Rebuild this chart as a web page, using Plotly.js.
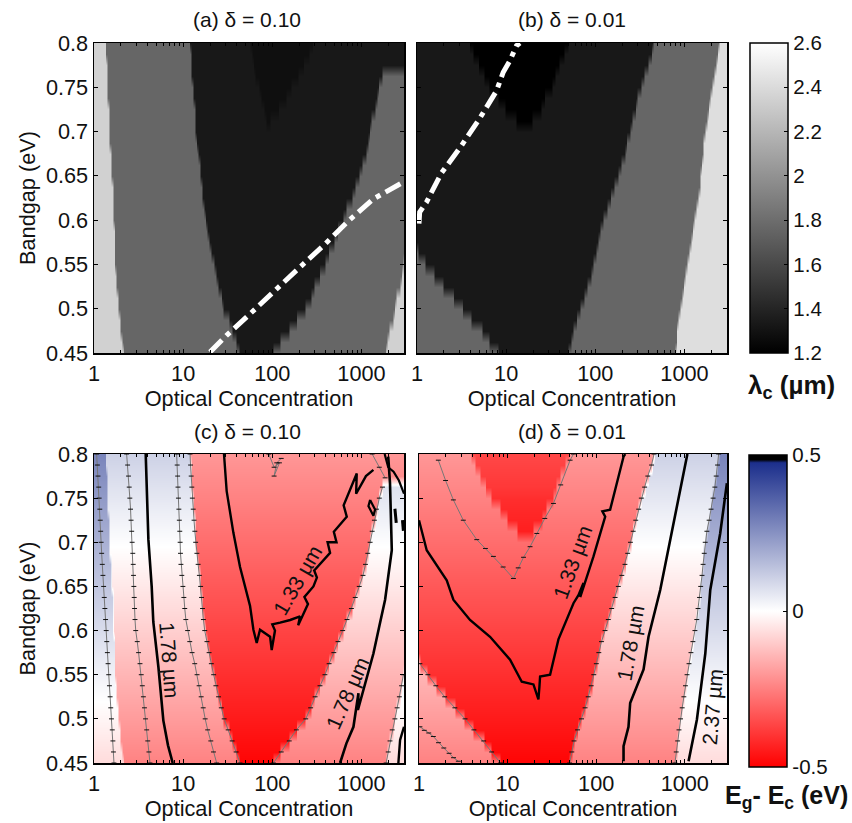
<!DOCTYPE html>
<html><head><meta charset="utf-8">
<script src="https://cdn.plot.ly/plotly-3.0.1.min.js"></script>
<style>html,body{margin:0;padding:0;background:#fff}#c{width:852px;height:823px}</style>
</head><body><div id="c"></div>
<script>
// Bandgap rows of the maps (eV), bottom to top
const bandgapRows=[.45,.4625,.475,.4875,.5,.5125,.525,.5375,.55,.5625,.575,.5875,.6,.6125,.625,.6375,.65,.6625,.675,.6875,.7,.7125,.725,.7375,.75,.7625,.775,.7875,.8];
const concTicks=[1,10,100,1000], concLabels=['1','10','100','1000'];
const concMinor=[2,3,4,5,6,7,8,9,20,30,40,50,60,70,80,90,200,300,400,500,600,700,800,900,2000,3000];
const gapTicks=[.45,.5,.55,.6,.65,.7,.75,.8], gapLabels=['0.45','0.5','0.55','0.6','0.65','0.7','0.75','0.8'];

// delta = 0.10: band boundaries per row, as log10(concentration); 9 = band reaches the right side
const aEdge1=[.322,.31,.298,.286,.275,.267,.257,.248,.237,.232,.227,.222,.218,.213,.208,.202,.196,.19,.184,.178,.172,.167,.163,.158,.154,.149,.144,.14,.135];
const aEdge2=[1.638,1.594,1.55,1.505,1.46,1.428,1.397,1.367,1.342,1.316,1.291,1.267,1.242,1.227,1.217,1.206,1.196,1.182,1.168,1.154,1.14,1.131,1.122,1.113,1.103,1.097,1.09,1.083,1.077];
const aTopL=[1.8,1.8,1.8,1.8,1.8,1.8,1.8,1.8,1.8,1.8,1.8,1.8,1.8,1.8,1.8,1.8,1.8,1.8,1.8,1.8,1.8,1.94,1.91,1.88,1.85,1.82,1.79,1.77,1.75];
const aTopR=[1.8,1.8,1.8,1.8,1.8,1.8,1.8,1.8,1.8,1.8,1.8,1.8,1.8,1.8,1.8,1.8,1.8,1.8,1.8,1.8,1.8,1.98,2.07,2.15,2.22,2.29,2.35,2.41,2.46];
const aEdge3=[2.012,2.1,2.19,2.27,2.375,2.43,2.48,2.535,2.59,2.637,2.69,2.737,2.789,2.838,2.887,2.93,2.975,3.017,3.045,3.071,3.097,3.12,3.145,3.168,3.2,3.236,9,9,9];
const aEdge4=[3.276,3.3,3.32,3.345,3.375,3.4,3.425,3.45,3.47,9,9,9,9,9,9,9,9,9,9,9,9,9,9,9,9,9,9,9,9];
// delta = 0.01: band boundaries per row; -1 = band absent
const bEdge1=[.92,.82,.73,.62,.52,.405,.29,.19,.1,.01,-1,-1,-1,-1,-1,-1,-1,-1,-1,-1,-1,-1,-1,-1,-1,-1,-1,-1,-1];
const bDeepL=[1,1,1,1,1,1,1,1,1,1,1,1,1,1,1,1,1,1,1,1,1,1.12,1,.92,.81,.75,.69,.64,.595];
const bDeepR=[1,1,1,1,1,1,1,1,1,1,1,1,1,1,1,1,1,1,1,1,1,1.3,1.39,1.44,1.51,1.56,1.6,1.645,1.687];
const bEdge2=[1.7,1.725,1.75,1.79,1.835,1.875,1.91,1.944,1.973,2.002,2.03,2.06,2.1,2.137,2.175,2.214,2.25,2.29,2.325,2.356,2.387,2.418,2.447,2.48,2.51,2.547,2.583,2.625,2.653];
const bEdge3=[2.889,2.904,2.92,2.935,2.953,2.971,2.99,3.008,3.026,3.048,3.07,3.092,3.115,3.136,3.15,3.167,3.18,3.195,3.207,3.22,3.231,3.25,3.275,3.297,3.32,3.34,3.355,3.37,3.383];
// Cut-off wavelength of each band (um)
const lambdaA={L:2.35,M:1.76,D:1.33,T:1.28};
const lambdaB={L:2.42,M:1.76,D:1.33,K:1.2};
// Eg-Ec read per row from the red/blue scale, one list per band (eV)
const diffDeep=[-.5,-.5,-.5,-.5,-.5,-.5,-.5,-.5,-.5,-.5,-.5,-.5,-.5,-.5,-.5,-.5,-.5,-.5,-.5,-.46,-.45,-.44,-.43,-.42,-.41,-.39,-.38,-.37,-.36];
const diffDark=[-.49,-.48,-.47,-.459,-.449,-.439,-.429,-.419,-.408,-.398,-.388,-.378,-.368,-.357,-.347,-.337,-.327,-.317,-.306,-.296,-.286,-.276,-.266,-.255,-.245,-.235,-.225,-.215,-.205];
const diffMid=[-.245,-.233,-.22,-.208,-.195,-.183,-.17,-.158,-.145,-.133,-.12,-.108,-.095,-.083,-.07,-.058,-.045,-.033,-.02,-.008,.005,.017,.03,.042,.055,.067,.08,.092,.105];
const diffLight=[-.07,-.058,-.045,-.033,-.02,-.008,.005,.017,.03,.042,.055,.067,.08,.092,.105,.117,.13,.142,.155,.167,.18,.192,.205,.217,.23,.242,.255,.267,.28];

// White limit curves, log10(concentration) and bandgap
const limitAx=[1.301,1.488,1.769,2.049,2.311,2.592,2.853,3.134,3.3,3.452], limitAy=[.451,.47,.496,.523,.547,.573,.599,.624,.634,.642];
const limitBx=[.022,.03,.105,.273,.498,.704,.892,.967,1.042,1.116,1.154], limitBy=[.596,.609,.62,.653,.684,.715,.746,.767,.78,.797,.8];

// Panel (c) contours
const cThin1=[.224,.218,.212,.205,.196,.188,.181,.173,.165,.158,.15,.143,.137,.13,.122,.115,.108,.1,.093,.086,.08,.075,.07,.065,.058,.053,.045,.038,.03];
const cThin2=[.628,.616,.603,.591,.578,.566,.554,.542,.53,.516,.5,.485,.468,.46,.455,.451,.447,.443,.44,.435,.428,.423,.416,.41,.402,.395,.387,.377,.366];
const cThin3=[1.376,1.34,1.31,1.275,1.247,1.225,1.202,1.179,1.156,1.13,1.1,1.074,1.05,1.03,1.018,1.008,.997,.985,.975,.97,.966,.962,.957,.952,.947,.942,.938,.933,.927];
const cThickLx=[.58,.61,.647,.665,.722,.778,.83,.883], cThickLy=[.8,.703,.65,.61,.559,.498,.47,.45];
const cVx=[1.458,1.488,1.563,1.638,1.75,1.788,1.825,1.862,1.975,1.993,2.03,2.0,2.087,2.2,2.311,2.29,2.4,2.36,2.461,2.5,2.47,2.648,2.62,2.72,2.69,2.835,2.8,2.947,2.94,3.05,3.134];
const cVy=[.8,.758,.711,.672,.628,.601,.586,.601,.593,.578,.6,.607,.609,.612,.616,.606,.63,.638,.65,.66,.668,.688,.7,.7,.712,.729,.742,.778,.755,.775,.782];
const cThickRx=[2.76,2.83,2.91,2.966,2.96,3.134,3.2,3.265,3.34,3.33,3.32,3.3], cThickRy=[.45,.472,.491,.529,.51,.574,.605,.635,.691,.73,.767,.797];
const cEdgeTopx=[3.265,3.2,3.12], cEdgeTopy=[.773,.785,.8];
const cCornerAx=[3.414,3.433,3.477], cCornerAy=[.45,.476,.491];
const cLoopx=[3.097,3.153,3.134,3.078,3.097], cLoopy=[.748,.737,.73,.741,.748];
const cTopRx=[3.26,3.3,3.36,3.42,3.477], cTopRy=[.8,.785,.78,.77,.755];
const cBlobAx=[3.375,3.385,3.39], cBlobAy=[.738,.73,.722];
const cBlobBx=[3.46,3.47], cBlobBy=[.725,.713];
const cScribx=[1.96,2.02,2.08,2.02,2.05,2.1], cScriby=[.8,.785,.79,.775,.79,.795];
// Panel (d) contours
const dVx=[0,.087,.313,.388,.576,.802,1.028,1.16,1.292,1.348,1.36,1.367,1.48,1.574,1.744,1.8,1.857,1.82,1.97,2.102,2.07,2.158,2.309,2.328];
const dVy=[.725,.691,.657,.635,.612,.593,.567,.542,.539,.522,.537,.548,.55,.59,.631,.64,.654,.638,.684,.729,.735,.737,.797,.8];
const dThinVx=[.218,.3,.388,.5,.652,.75,.84,.95,1.066,1.12,1.18,1.254,1.33,1.42,1.518,1.6,1.706,1.744];
const dThinVy=[.793,.77,.748,.725,.703,.693,.684,.672,.659,.671,.683,.695,.71,.727,.744,.765,.793,.8];
const dLowx=[.011,.06,.11,.162,.22,.28,.34,.39,.444], dLowy=[.491,.487,.484,.48,.473,.467,.461,.456,.452];
const dThickMx=[2.309,2.309,2.365,2.384,2.535,2.591,2.723,2.798,2.911,3.024,3.03], dThickMy=[.452,.469,.491,.518,.556,.593,.646,.684,.74,.797,.8];
const dThickRx=[3.043,3.137,3.232,3.288,3.4,3.476], dThickRy=[.452,.499,.574,.646,.71,.767];

// Text of the contour labels
const labels=[['1.78 µm',170,660,86],['1.33 µm',297,580,-60],['1.78 µm',347,693,-66],['1.33 µm',572,562,-70],['1.78 µm',630,643,-80],['2.37 µm',712,707,-85]];
const panelTitles=[['(a) δ = 0.10',247,20],['(b) δ = 0.01',572,20],['(c) δ = 0.10',247,431],['(d) δ = 0.01',572,431]];

const W=852,H=823,FONT='Liberation Sans, Arial, sans-serif',SZ=21.7;
const logGrid=[];for(let i=0;i<=174;i++)logGrid.push(i*0.02);
const concGrid=logGrid.map(v=>Math.pow(10,v));
const toC=a=>a.map(v=>Math.pow(10,v));
function buildZ(edges,codes,val){
  return bandgapRows.map((_,r)=>logGrid.map(lc=>{
    let k=codes.length-1;
    for(let i=0;i<edges.length;i++){if(lc<edges[i][r]){k=i;break;}}
    const v=val[codes[k]];
    return Array.isArray(v)?v[r]:v;
  }));
}
const edgesA=[aEdge1,aEdge2,aTopL,aTopR,aEdge3,aEdge4], codesA=['L','M','D','T','D','M','L'];
const edgesB=[bEdge1,bDeepL,bDeepR,bEdge2,bEdge3], codesB=['M','D','K','D','M','L'];
const diffA={L:diffLight,M:diffMid,D:diffDark,T:diffDark};
const diffB={L:diffLight,M:diffMid,D:diffDark,K:diffDeep};

const hm=(z,n,ca)=>({type:'heatmap',x:concGrid,y:bandgapRows,z,xaxis:'x'+n,yaxis:'y'+n,coloraxis:ca,zsmooth:'best',hoverinfo:'skip'});
function line(xs,ys,n,w){return {type:'scatter',mode:'lines',x:toC(xs),y:ys,xaxis:'x'+n,yaxis:'y'+n,line:{color:'#000',width:w},showlegend:false,hoverinfo:'skip'};}
function thin(xs,ys,n){
  const px=[],py=[];xs.forEach((v,i)=>{if(v>=0&&v<4){px.push(v);py.push(ys[i]);}});
  return {type:'scatter',mode:'lines+markers',x:toC(px),y:py,xaxis:'x'+n,yaxis:'y'+n,line:{color:'#777',width:1},
    marker:{symbol:'line-ew',size:3.5,line:{color:'#111',width:1},color:'#111'},showlegend:false,hoverinfo:'skip'};
}
function limit(xs,ys,n){return {type:'scatter',mode:'lines',x:toC(xs),y:ys,xaxis:'x'+n,yaxis:'y'+n,line:{color:'#fff',width:5,dash:'17px,6px,5px,6px'},showlegend:false,hoverinfo:'skip'};}

const traces=[
 hm(buildZ(edgesA,codesA,lambdaA),'','coloraxis'),
 hm(buildZ(edgesB,codesB,lambdaB),'2','coloraxis'),
 hm(buildZ(edgesA,codesA,diffA),'3','coloraxis2'),
 hm(buildZ(edgesB,codesB,diffB),'4','coloraxis2'),
 limit(limitAx,limitAy,''),limit(limitBx,limitBy,'2'),
 thin(cThin1,bandgapRows,'3'),thin(cThin2,bandgapRows,'3'),thin(cThin3,bandgapRows,'3'),
 thin(aEdge2,bandgapRows,'3'),thin(aEdge3,bandgapRows,'3'),thin(aEdge4,bandgapRows,'3'),thin(cEdgeTopx,cEdgeTopy,'3'),
 thin(cScribx,cScriby,'3'),
 line(cThickLx,cThickLy,'3',2.6),line(cVx,cVy,'3',2.4),line(cThickRx,cThickRy,'3',2.6),
 line(cCornerAx,cCornerAy,'3',2.4),line(cLoopx,cLoopy,'3',2.2),line(cTopRx,cTopRy,'3',2.2),line(cBlobAx,cBlobAy,'3',3),line(cBlobBx,cBlobBy,'3',3),
 thin(bEdge1,bandgapRows,'4'),thin(bEdge2,bandgapRows,'4'),thin(bEdge3,bandgapRows,'4'),
 thin(dThinVx,dThinVy,'4'),thin(dLowx,dLowy,'4'),
 line(dVx,dVy,'4',2.4),line(dThickMx,dThickMy,'4',2.6),line(dThickRx,dThickRy,'4',2.6)
];

const domX=(a,b)=>[a/W,b/W], domY=(t,b)=>[1-b/H,1-t/H];
function xAx(a,b,anchor){return {domain:domX(a,b),anchor,type:'log',range:[0,3.477],tickmode:'array',tickvals:concTicks,ticktext:concLabels,
  ticks:'inside',ticklen:4,tickcolor:'#000',tickwidth:1,mirror:'ticks',showline:true,linecolor:'#000',linewidth:1.5,showgrid:false,zeroline:false,
  tickfont:{family:FONT,size:SZ,color:'#111'},
  minor:{tickmode:'array',tickvals:concMinor,ticks:'inside',ticklen:3,tickcolor:'#000',tickwidth:1,showgrid:false},
  title:{text:'Optical Concentration',font:{family:FONT,size:SZ,color:'#111'},standoff:2}};}
function yAx(t,b,anchor,lab){const o={domain:domY(t,b),anchor,range:[.45,.8],tickmode:'array',tickvals:gapTicks,ticktext:gapLabels,showticklabels:lab,
  ticks:'inside',ticklen:4,tickcolor:'#000',tickwidth:1,mirror:'ticks',showline:true,linecolor:'#000',linewidth:1.5,showgrid:false,zeroline:false,
  tickfont:{family:FONT,size:SZ,color:'#111'}};
  if(lab)o.title={text:'Bandgap (eV)',font:{family:FONT,size:SZ,color:'#111'},standoff:4};
  return o;}
const cbar=(x,top,h,vals,txt)=>({x:x/W,xanchor:'left',xpad:0,y:1-top/H,yanchor:'top',ypad:0,len:h/H,lenmode:'fraction',thickness:38,thicknessmode:'pixels',
  tickmode:'array',tickvals:vals,ticktext:txt,ticks:'inside',ticklen:4,tickcolor:'#000',outlinecolor:'#000',outlinewidth:1.5,borderwidth:0,
  tickfont:{family:FONT,size:20.5,color:'#111'}});
const annotations=[];
const A=(text,x,y,size,angle)=>annotations.push({text,xref:'paper',yref:'paper',x:x/W,y:1-y/H,xanchor:'center',yanchor:'middle',showarrow:false,textangle:angle||0,
  font:{family:FONT,size,color:'#111'}});
panelTitles.forEach(t=>A(t[0],t[1],t[2],21));
labels.forEach(l=>A(l[0],l[1],l[2],21,l[3]));
A('<b>λ<sub>c</sub> (µm)</b>',791,386,26);
A('<b>E<sub>g</sub>- E<sub>c</sub> (eV)</b>',786,797,25);

const layout={width:W,height:H,margin:{l:0,r:0,t:0,b:0},paper_bgcolor:'#fff',plot_bgcolor:'#fff',showlegend:false,font:{family:FONT},
 xaxis:xAx(94,404,'y'),yaxis:yAx(43,353,'x',true),
 xaxis2:xAx(417,727,'y2'),yaxis2:yAx(43,353,'x2',false),
 xaxis3:xAx(94,404,'y3'),yaxis3:yAx(454,763,'x3',true),
 xaxis4:xAx(419,727,'y4'),yaxis4:yAx(454,763,'x4',false),
 coloraxis:{cmin:1.2,cmax:2.6,colorscale:[[0,'#000'],[1,'#fff']],colorbar:cbar(750,43,310,[1.2,1.4,1.6,1.8,2,2.2,2.4,2.6],['1.2','1.4','1.6','1.8','2','2.2','2.4','2.6'])},
 coloraxis2:{cmin:-.5,cmax:.5,colorscale:[[0,'#ff0000'],[.5,'#ffffff'],[.975,'#1c2f8c'],[.985,'#000'],[1,'#000']],colorbar:cbar(749,455,312,[-.5,0,.5],['-0.5','0','0.5'])},
 annotations};
Plotly.newPlot('c',traces,layout,{displayModeBar:false,staticPlot:true});
</script></body></html>
